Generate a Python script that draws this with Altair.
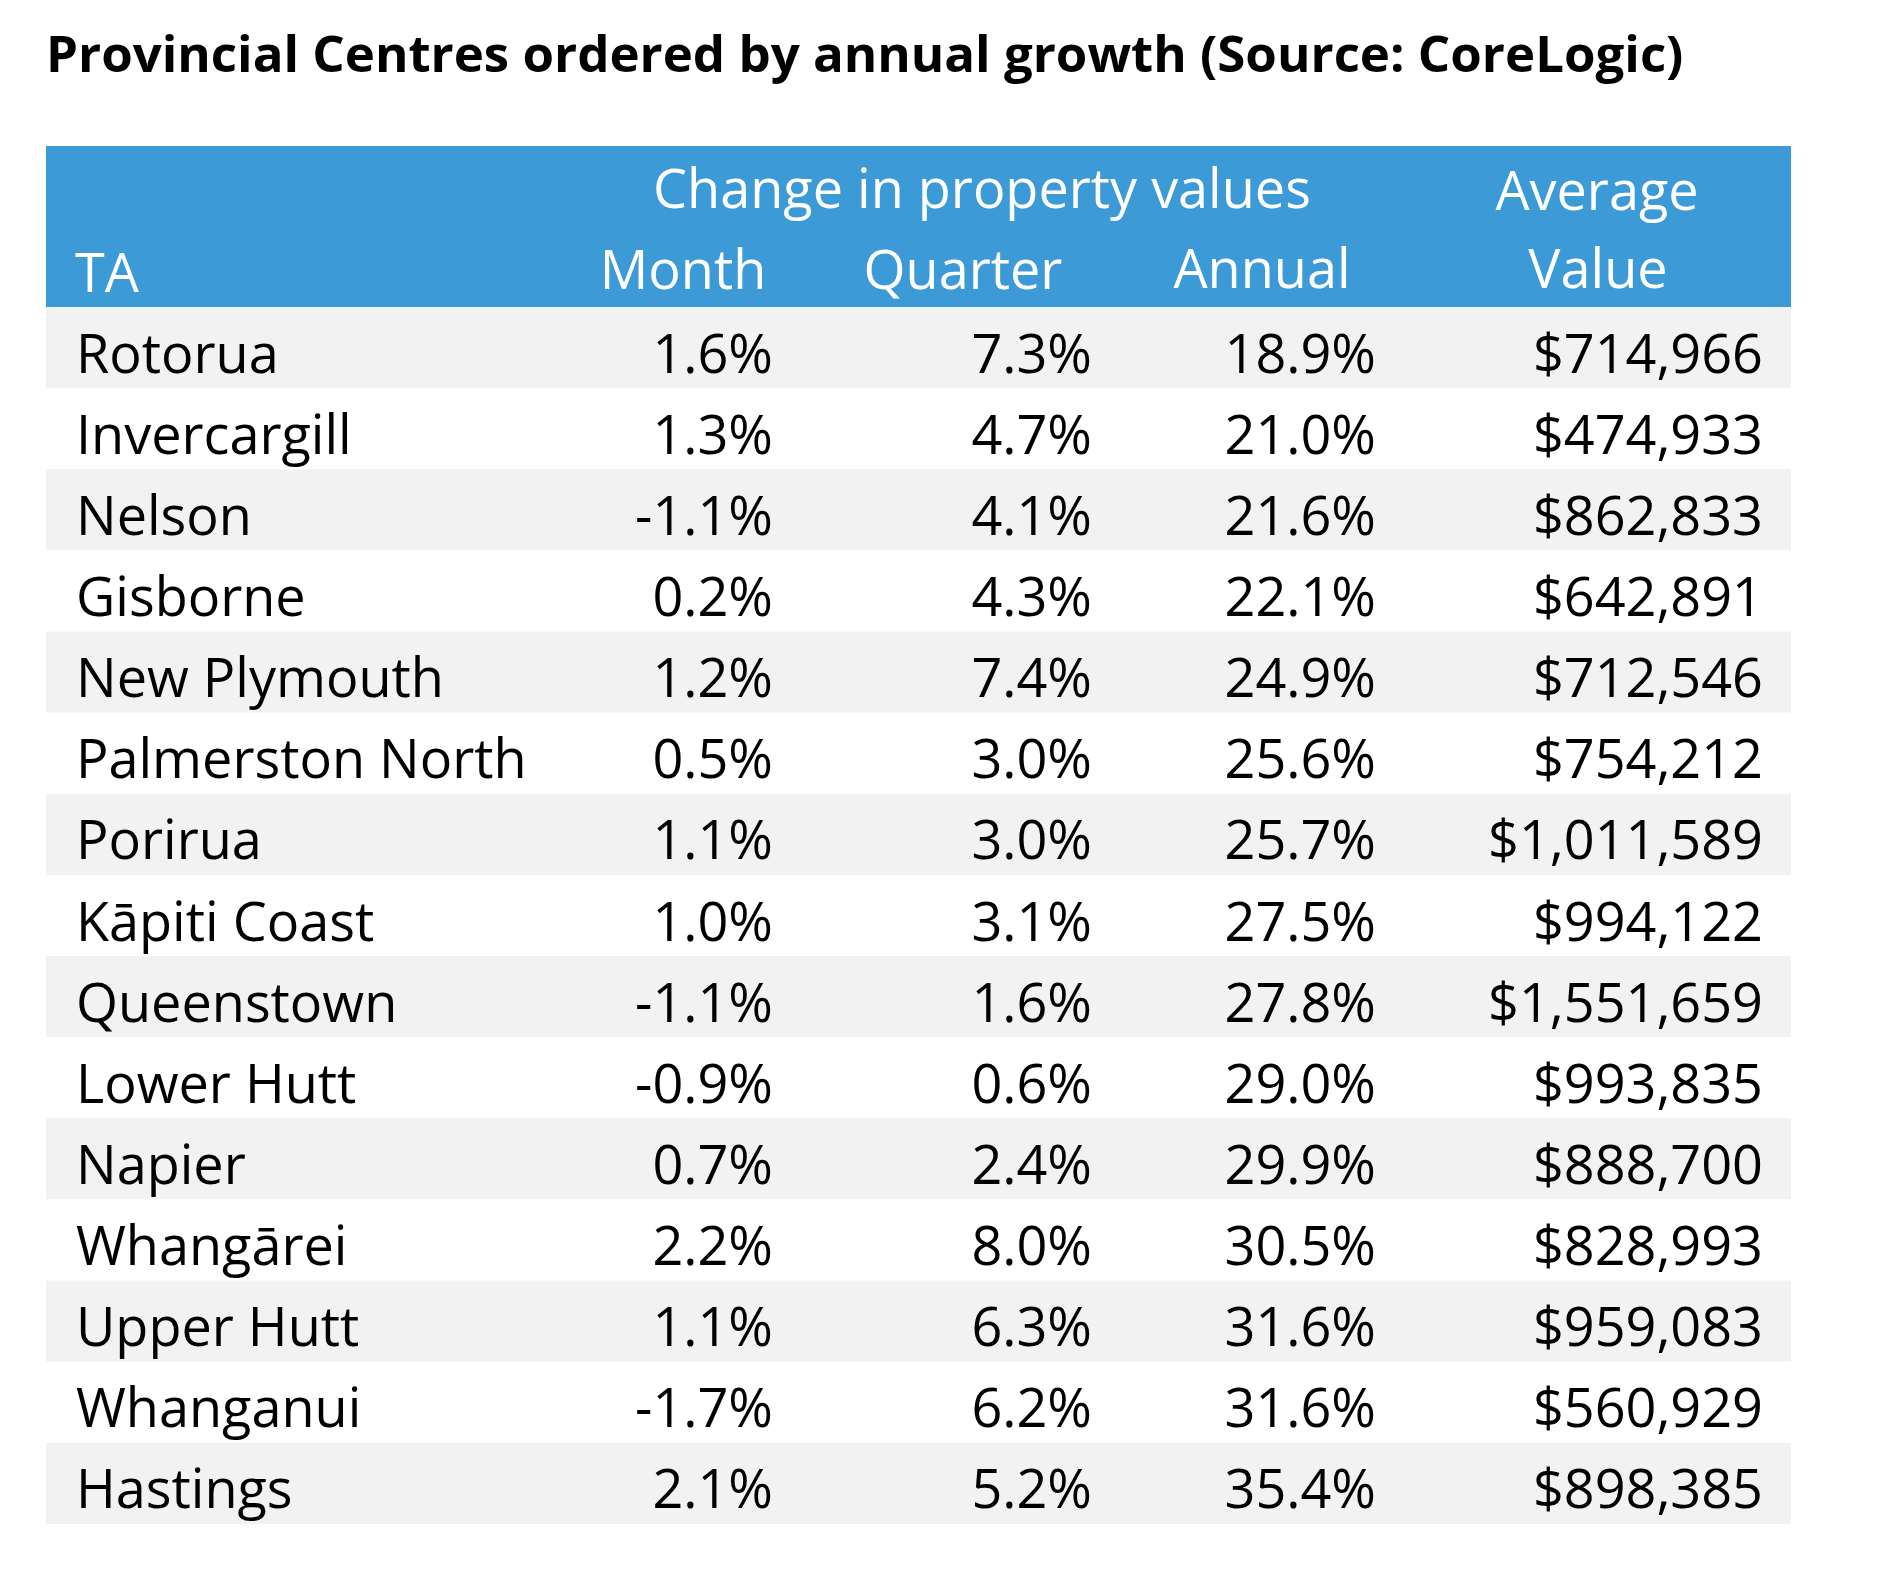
import altair as alt
import pandas as pd

title_text = "Provincial Centres ordered by annual growth (Source: CoreLogic)"
names = ["Rotorua", "Invercargill", "Nelson", "Gisborne", "New Plymouth",
         "Palmerston North", "Porirua", "Kāpiti Coast", "Queenstown", "Lower Hutt",
         "Napier", "Whangārei", "Upper Hutt", "Whanganui", "Hastings"]
month = [1.6, 1.3, -1.1, 0.2, 1.2, 0.5, 1.1, 1.0, -1.1, -0.9, 0.7, 2.2, 1.1, -1.7, 2.1]
quarter = [7.3, 4.7, 4.1, 4.3, 7.4, 3.0, 3.0, 3.1, 1.6, 0.6, 2.4, 8.0, 6.3, 6.2, 5.2]
annual = [18.9, 21.0, 21.6, 22.1, 24.9, 25.6, 25.7, 27.5, 27.8, 29.0, 29.9, 30.5, 31.6, 31.6, 35.4]
avg_value = [714966, 474933, 862833, 642891, 712546, 754212, 1011589, 994122,
             1551659, 993835, 888700, 828993, 959083, 560929, 898385]

FONT = "Open Sans"
FS = 54
BLUE = "#3C9AD6"
GREY = "#F2F2F2"
LEFT, RIGHT = 38, 1783
TOP_HDR, TOP_ROWS, BOTTOM = 138, 299, 1516

table = pd.DataFrame({
    "TA": names,
    "shade": ["odd" if i % 2 == 0 else "even" for i in range(len(names))],
    "Month": [f"{v:.1f}%" for v in month],
    "Quarter": [f"{v:.1f}%" for v in quarter],
    "Annual": [f"{v:.1f}%" for v in annual],
    "Value": [f"${v:,}" for v in avg_value],
})

yscale = alt.Scale(type="band", domain=names, range=[TOP_ROWS, BOTTOM],
                   paddingInner=0, paddingOuter=0)
Y = alt.Y("TA:N", scale=yscale, axis=None)

base = alt.Chart(table)

bands = base.mark_rect().encode(
    y=Y,
    x=alt.value(LEFT), x2=alt.value(RIGHT),
    color=alt.Color("shade:N", scale=alt.Scale(domain=["odd", "even"], range=[GREY, "#FFFFFF"]), legend=None),
)

header_bg = alt.Chart(pd.DataFrame({"a": [0]})).mark_rect(color=BLUE).encode(
    x=alt.value(LEFT), x2=alt.value(RIGHT), y=alt.value(TOP_HDR), y2=alt.value(TOP_ROWS)
)

names_text = base.mark_text(
    align="left", baseline="alphabetic", font=FONT, fontSize=FS, color="#000000", dy=25
).encode(y=Y, x=alt.value(68), text="TA:N")

col_right = {"Month": 765, "Quarter": 1084, "Annual": 1368, "Value": 1755}
col_layers = [
    base.mark_text(
        align="right", baseline="alphabetic", font=FONT, fontSize=FS, color="#000000", dy=25
    ).encode(y=Y, x=alt.value(xr), text=f"{c}:N")
    for c, xr in col_right.items()
]

hdr_labels = ["Change in property values", "Average", "Month", "Quarter", "Annual", "Value"]
hdr_x = [974, 1589, 675, 955, 1254, 1590]
hdr_y = [200, 202, 281, 281, 280, 280]
hdr_layers = [
    alt.Chart(pd.DataFrame({"label": [lab]})).mark_text(
        align="center", baseline="alphabetic", font=FONT, fontSize=FS, color="#FFFFFF"
    ).encode(x=alt.value(hx), y=alt.value(hy), text="label:N")
    for lab, hx, hy in zip(hdr_labels, hdr_x, hdr_y)
]
ta_text = alt.Chart(pd.DataFrame({"label": ["TA"]})).mark_text(
    align="left", baseline="alphabetic", font=FONT, fontSize=FS, color="#FFFFFF"
).encode(x=alt.value(67), y=alt.value(284), text="label:N")

title = alt.Chart(pd.DataFrame({"label": [title_text]})).mark_text(
    align="left", baseline="alphabetic", font=FONT, fontSize=51, fontWeight="bold", color="#000000"
).encode(x=alt.value(38), y=alt.value(64), text="label:N")

chart = alt.layer(header_bg, bands, names_text, *col_layers, *hdr_layers, ta_text, title).properties(
    width=1870, height=1555, padding=0,
    autosize=alt.AutoSizeParams(type="fit", contains="padding"),
).configure_view(stroke=None)

chart.save("out.html", embed_options={"renderer": "svg", "actions": False})
